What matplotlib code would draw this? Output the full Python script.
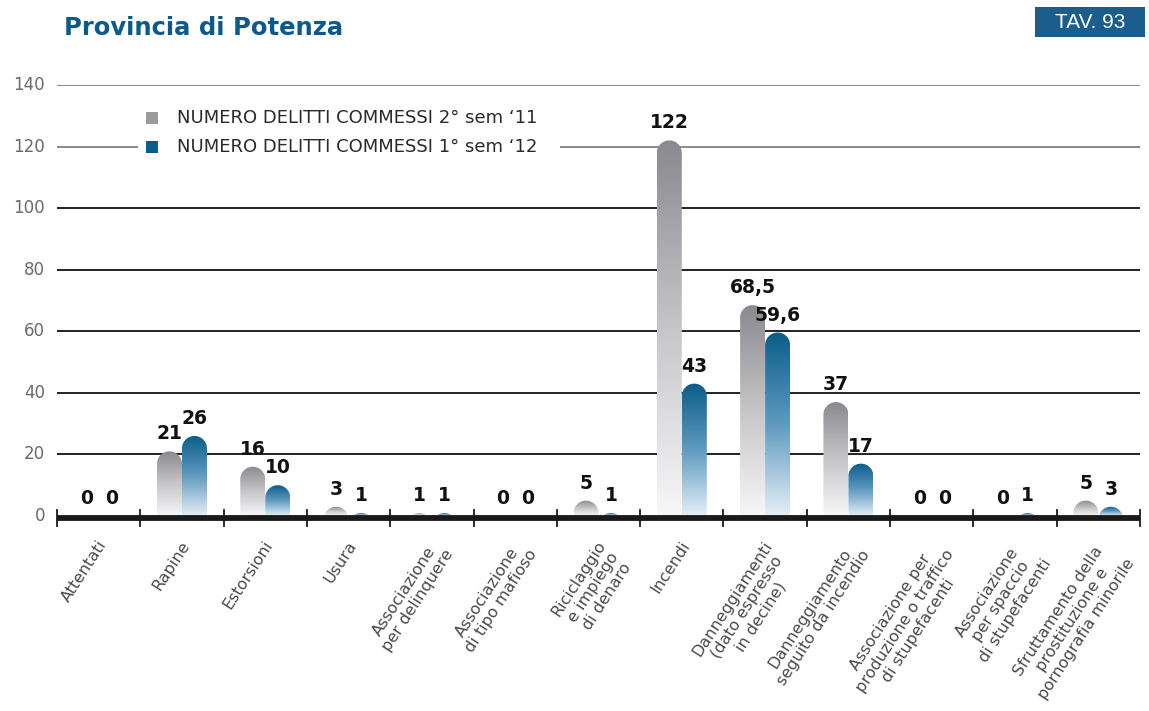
import numpy as np
import matplotlib
matplotlib.use("Agg")
import matplotlib.pyplot as plt
from matplotlib.path import Path
from matplotlib.patches import PathPatch, Rectangle
from matplotlib.colors import LinearSegmentedColormap

categories = [
    "Attentati",
    "Rapine",
    "Estorsioni",
    "Usura",
    "Associazione\nper delinquere",
    "Associazione\ndi tipo mafioso",
    "Riciclaggio\ne impiego\ndi denaro",
    "Incendi",
    "Danneggiamenti\n(dato espresso\nin decine)",
    "Danneggiamento\nseguito da incendio",
    "Associazione per\nproduzione o traffico\ndi stupefacenti",
    "Associazione\nper spaccio\ndi stupefacenti",
    "Sfruttamento della\nprostituzione e\npornografia minorile",
]
sem2_2011 = [0, 21, 16, 3, 1, 0, 5, 122, 68.5, 37, 0, 0, 5]
sem1_2012 = [0, 26, 10, 1, 1, 0, 1, 43, 59.6, 17, 0, 1, 3]
series_names = ["NUMERO DELITTI COMMESSI 2° sem \u201811",
                "NUMERO DELITTI COMMESSI 1° sem \u201812"]
yticks = [0, 20, 40, 60, 80, 100, 120, 140]

W, H = 1149, 711
fig = plt.figure(figsize=(W / 100, H / 100), dpi=100)
plt.rcParams['font.family'] = ['DejaVu Sans']

# axes placed in pixel terms
left, right, top, bottom = 57, 1140, 85, 516
ax = fig.add_axes([left / W, 1 - bottom / H, (right - left) / W, (bottom - top) / H])
n = len(categories)
ax.set_xlim(0, n)
ax.set_ylim(0, 140)
ax.axis('off')

px_x = (right - left) / n
px_y = (bottom - top) / 140.0

# gridlines
for t in yticks[1:]:
    col = '#808080' if t >= 120 else '#111111'
    ax.axhline(t, color=col, lw=1.3, zorder=1)
for t in yticks:
    ax.text(-12 / px_x, t, str(t), ha='right', va='center', fontsize=12,
            color='#6a6a6a')

# baseline and ticks
yl = -2 / px_y
ax.plot([0, n], [yl, yl], color='#1a1a1a', lw=4.2, solid_capstyle='butt',
        clip_on=False, zorder=6)
for i in range(n + 1):
    ax.plot([i, i], [-10 / px_y, 6 / px_y], color='#1a1a1a', lw=1.3,
            clip_on=False, zorder=6)

grey_cmap = LinearSegmentedColormap.from_list('g', ['#f7f7f8', '#c6c6c9', '#8a8a8e'])
blue_cmap = LinearSegmentedColormap.from_list('b', ['#e6eff7', '#5f9ac0', '#0a5d8a'])

bw = 25 / px_x          # bar width in data units
ry = (25 / 2) / px_y    # cap radius in y data units
grad = np.linspace(0, 1, 512).reshape(-1, 1)


def rounded_bar(x0, value, cmap):
    if value <= 0:
        return
    x1 = x0 + bw
    xc = (x0 + x1) / 2
    yb = value - ry
    theta = np.linspace(np.pi, 0, 40)
    xs = list(xc + (bw / 2) * np.cos(theta))
    ys = list(yb + ry * np.sin(theta))
    verts = [(x0, min(0, yb) - 1)] + list(zip(xs, ys)) + [(x1, min(0, yb) - 1)]
    verts.append(verts[0])
    codes = [Path.MOVETO] + [Path.LINETO] * (len(verts) - 2) + [Path.CLOSEPOLY]
    patch = PathPatch(Path(verts, codes), facecolor='none', edgecolor='none')
    ax.add_patch(patch)
    im = ax.imshow(grad, cmap=cmap, origin='lower', aspect='auto',
                   extent=(x0, x1, 0, value), zorder=3, interpolation='bilinear')
    im.set_clip_path(patch)


def fmt(v):
    return f"{v:g}".replace('.', ',')


for i in range(n):
    c = i + 0.5
    for j, (vals, cmap) in enumerate([(sem2_2011, grey_cmap), (sem1_2012, blue_cmap)]):
        x0 = c - bw + j * bw
        v = vals[i]
        rounded_bar(x0, v, cmap)
        ax.text(x0 + bw / 2, v + 8 / px_y, fmt(v), ha='center', va='bottom',
                fontsize=13.5, fontweight='heavy', color='#111111', zorder=7)

ax.set_xlim(0, n)
ax.set_ylim(0, 140)

# category labels
for i, lab in enumerate(categories):
    xd = i + 0.5 - 2 / px_x
    yd = -22 / px_y
    ax.text(xd, yd, lab, rotation=57, rotation_mode='anchor', ha='right',
            va='top', multialignment='center', fontsize=11.5, color='#4a4a4a',
            linespacing=1.15, clip_on=False)

# legend box over the 120 gridline
leg_l, leg_r, leg_t, leg_b = 138, 560, 100, 165
fig.patches.append(Rectangle((leg_l / W, 1 - leg_b / H), (leg_r - leg_l) / W,
                             (leg_b - leg_t) / H, transform=fig.transFigure,
                             facecolor='white', edgecolor='none', zorder=5))
for k, (name, col) in enumerate(zip(series_names, ['#9a9a9c', '#0b5e8c'])):
    yc = 118 + k * 29
    fig.patches.append(Rectangle((146 / W, 1 - (yc + 6) / H), 12 / W, 12 / H,
                                 transform=fig.transFigure, facecolor=col,
                                 edgecolor='none', zorder=6))
    fig.text(177 / W, 1 - yc / H, name, ha='left', va='center', fontsize=13,
             color='#2a2a2a', zorder=7)

# title and table tag
fig.text(64 / W, 1 - 28 / H, "Provincia di Potenza", ha='left', va='center',
         fontsize=17.5, fontweight='heavy', color='#0b5a8a')
fig.patches.append(Rectangle((1035 / W, 1 - 37 / H), 110 / W, 30 / H,
                             transform=fig.transFigure, facecolor='#1b5e8e',
                             edgecolor='none'))
fig.text(1090 / W, 1 - 22 / H, "TAV. 93", ha='center', va='center',
         fontsize=15, color='white', family='Liberation Sans')

fig.savefig("out.png", dpi=100)
